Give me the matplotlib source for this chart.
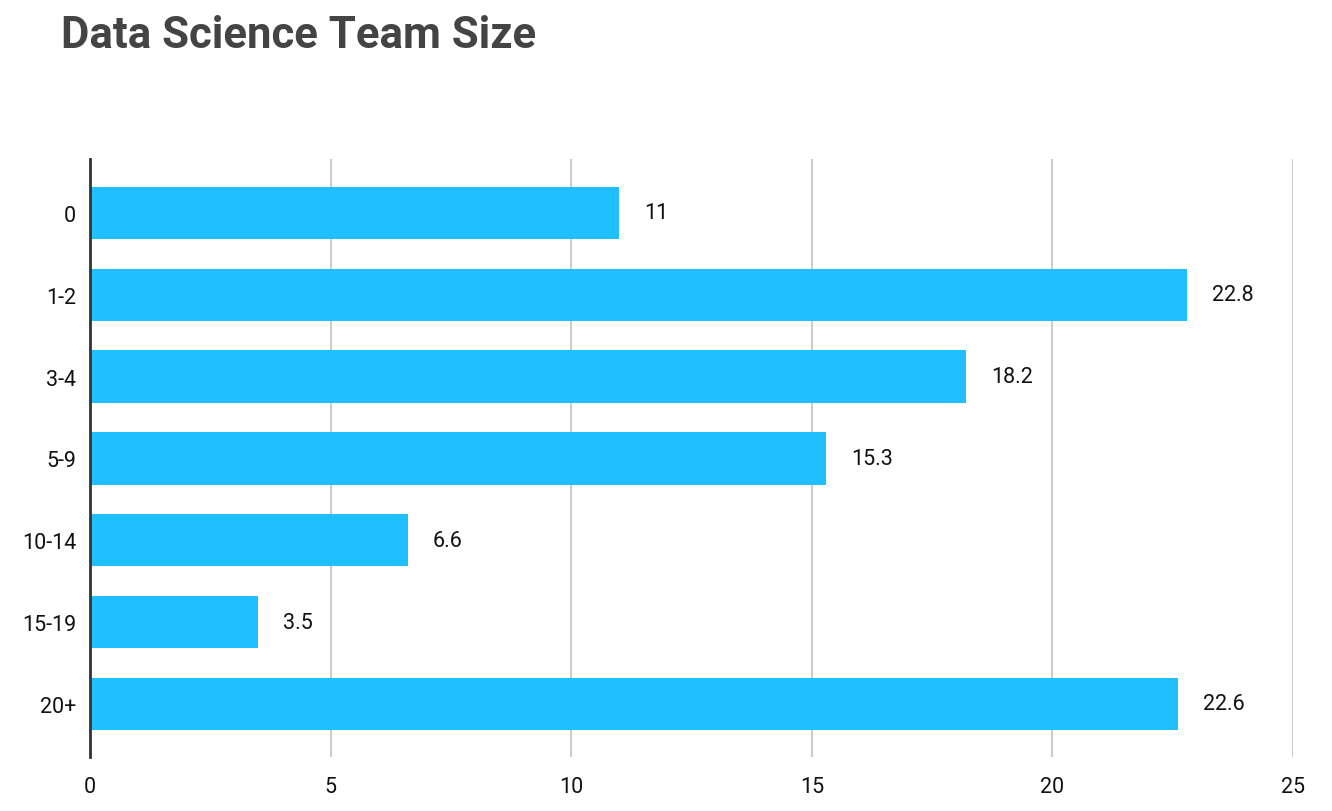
import matplotlib.pyplot as plt

plt.rcParams['font.family'] = ['Roboto', 'DejaVu Sans']

categories = ["0", "1-2", "3-4", "5-9", "10-14", "15-19", "20+"]
values = [11, 22.8, 18.2, 15.3, 6.6, 3.5, 22.6]
value_labels = ["11", "22.8", "18.2", "15.3", "6.6", "3.5", "22.6"]
x_ticks = [0, 5, 10, 15, 20, 25]

fig = plt.figure(figsize=(13.32, 8.12), dpi=100)
ax = fig.add_axes([90 / 1332, 1 - 758 / 812, (1293 - 90) / 1332, (758 - 160) / 812])

ypos = list(range(len(categories)))
bars = ax.barh(ypos, values, height=0.64, color="#20BFFF", zorder=3)

for y, v, lab in zip(ypos, values, value_labels):
    ax.annotate(lab, (v, y), xytext=(18, 0), textcoords="offset points",
                ha="left", va="center", fontsize=15.5, color="#111111")

ax.set_xlim(0, 25)
ax.set_ylim(6.65, -0.66)
ax.set_yticks(ypos)
ax.set_yticklabels(categories)
ax.set_xticks(x_ticks)
ax.set_xticklabels([str(t) for t in x_ticks])

ax.tick_params(axis="both", length=0, labelsize=15.5, colors="#111111")
ax.tick_params(axis="y", pad=10)
ax.tick_params(axis="x", pad=14)

ax.grid(axis="x", color="#cccccc", linewidth=1.5, zorder=0)
ax.grid(axis="y", visible=False)
for side in ["top", "right", "bottom"]:
    ax.spines[side].set_visible(False)
ax.spines["left"].set_color("#333333")
ax.spines["left"].set_linewidth(2)
ax.spines["left"].set_zorder(4)

fig.text(61 / 1332, 1 - 36 / 812, "Data Science Team Size", fontsize=31.5,
         fontweight="bold", color="#444444", ha="left", va="center")

fig.savefig("out.png", dpi=100)
